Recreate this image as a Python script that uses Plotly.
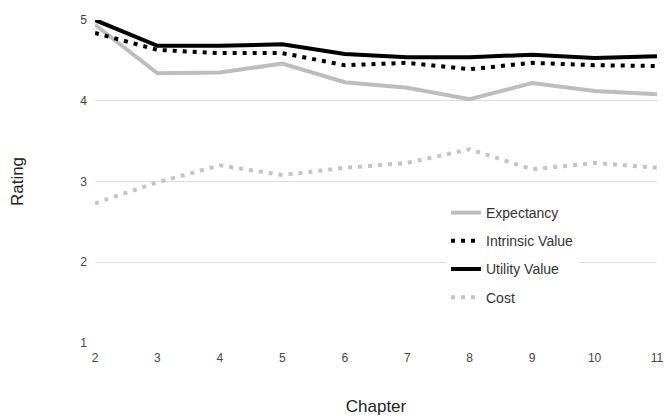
import plotly.graph_objects as go

chapters = [2, 3, 4, 5, 6, 7, 8, 9, 10, 11]
expectancy = [4.94, 4.34, 4.35, 4.46, 4.23, 4.16, 4.02, 4.22, 4.12, 4.08]
intrinsic_value = [4.84, 4.63, 4.59, 4.59, 4.44, 4.47, 4.39, 4.47, 4.44, 4.43]
utility_value = [5.00, 4.68, 4.68, 4.70, 4.58, 4.54, 4.54, 4.57, 4.53, 4.55]
cost = [2.73, 2.99, 3.20, 3.08, 3.17, 3.23, 3.40, 3.15, 3.23, 3.17]

y_ticks = [1, 2, 3, 4, 5]

FONT = "Liberation Sans, Arial, sans-serif"

series = [
    ("Expectancy", expectancy, "#bdbdbd", "solid", "g1"),
    ("Intrinsic Value", intrinsic_value, "#000000", "4px,6px", "g2"),
    ("Utility Value", utility_value, "#000000", "solid", "g3"),
    ("Cost", cost, "#c4c4c4", "4px,6px", "g4"),
]

fig = go.Figure()
for name, vals, color, dash, grp in series:
    fig.add_trace(go.Scatter(
        x=chapters, y=vals, name=name, mode="lines",
        line=dict(color=color, width=4, dash=dash),
        legendgroup=grp, cliponaxis=False,
    ))

W, H = 664, 416
ML, MR, MT, MB = 95, 7, 20, 73
PW, PH = W - ML - MR, H - MT - MB

fig.update_layout(
    width=W, height=H,
    margin=dict(l=ML, r=MR, t=MT, b=MB),
    paper_bgcolor="white", plot_bgcolor="white",
    font=dict(family=FONT, color="#444444", size=12),
    showlegend=True,
    legend=dict(
        x=(446 - ML) / PW, y=(MT + PH - 197) / PH, xanchor="left", yanchor="top",
        bgcolor="white", font=dict(size=14, color="#333333"),
        traceorder="grouped", tracegroupgap=7,
    ),
    xaxis=dict(
        range=[2, 11], tickvals=chapters, showgrid=False, zeroline=False,
        showline=False, ticks="", tickfont=dict(size=12, color="#444444"),
        ticklabelstandoff=6, automargin=False,
        title=dict(text="Chapter", font=dict(size=17, color="#222222"), standoff=37),
    ),
    yaxis=dict(
        range=[1, 5], tickvals=y_ticks, showgrid=True, gridcolor="#dddddd",
        gridwidth=1, zeroline=False, showline=False, ticks="",
        tickfont=dict(size=12, color="#444444"),
        ticklabelstandoff=7, automargin=False,
        title=dict(text="Rating", font=dict(size=17, color="#222222"), standoff=52),
    ),
)

fig.write_html(
    "out.html",
    config={"displayModeBar": False},
    post_script="document.body.style.margin='0';document.body.style.overflow='hidden';",
)
